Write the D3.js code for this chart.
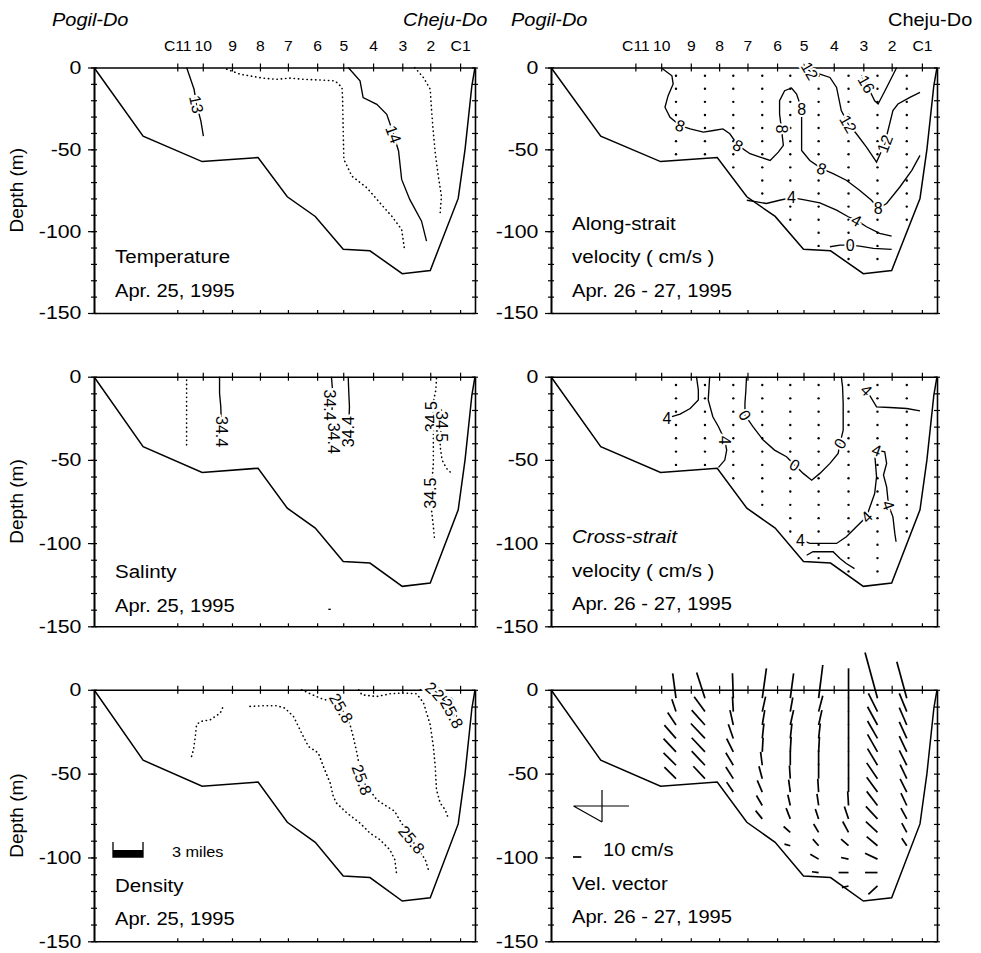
<!DOCTYPE html>
<html>
<head>
<meta charset="utf-8">
<script src="https://cdnjs.cloudflare.com/ajax/libs/d3/7.8.5/d3.min.js"></script>
<style>
  body { margin: 0; background: #fff; }
  svg { font-family: "Liberation Sans", Arial, Helvetica, sans-serif; }
</style>
</head>
<body>
<div id="chart"></div>
<script>
// stations along the section (km from Pogil-Do)
var stations = ["C11", "10", "9", "8", "7", "6", "5", "4", "3", "2", "C1"];
var stationKm = [13.4, 17.5, 22.2, 26.7, 31.2, 35.9, 40.1, 44.9, 49.6, 54.1, 58.9];

var depthTicks = [0, -50, -100, -150];
var depthMinor = [0, -10, -20, -30, -40, -50, -60, -70, -80, -90, -100, -110, -120, -130, -140, -150];

// bottom topography
var bottomKm = [0, 7.9, 17.4, 26.4, 31.1, 35.6, 40.1, 44.4, 49.6, 54.1, 58.6, 59.7, 60.8, 61.3];
var bottomDepth = [0, -42, -57.5, -55, -79, -91, -111, -112, -126, -124, -80, -50, -11, 0];

// temperature contours (deg C)
var temp13 = [[14.9, 0], [16.1, -13.3], [16.5, -22.5], [17.2, -32.7], [17.6, -41.9]];
var temp135 = [[21.35, -1], [23.5, -4.1], [27.2, -6.5], [29.4, -7.2], [31.5, -6.5], [33.7, -7.2], [37.2, -7.8],
  [38.8, -8.2], [39.9, -12.2], [40.0, -19.4], [40.1, -39.8], [40.2, -56.1], [41.5, -66.4], [43.9, -73.5],
  [46.0, -82.7], [47.9, -90.8], [49.5, -99], [50.0, -112.3]];
var temp14 = [[40.9, 0], [42.8, -8.2], [43.3, -18.4], [45.5, -22.5], [47.1, -28.6], [48.2, -40.8], [49.0, -51],
  [49.5, -68.4], [50.8, -80.6], [52.7, -93.9], [53.5, -106.1]];
var temp145 = [[51.6, 0], [53.0, -6.1], [54.1, -13.3], [54.3, -25.5], [54.6, -39.8], [54.9, -52], [55.4, -66.4],
  [55.9, -78.6], [55.7, -88.8]];
var tempLabels = [[16.5, -22.5, "13", 78], [48.2, -40.8, "14", 70]];

// salinity contours (psu)
var sal1 = [[14.9, -2], [14.9, -14], [14.9, -26], [14.9, -41]];
var sal2 = [[20.2, 0], [20.2, -10], [20.4, -18], [20.5, -30]];
var sal3 = [[38.2, 0], [38.4, -9], [38.3, -20]];
var sal4 = [[40.9, 0], [41.0, -10], [41.1, -18], [41.0, -28]];
var sal5 = [[55.1, -1], [55.0, -8], [54.6, -15], [54.6, -34], [54.6, -52], [54.4, -62], [54.3, -80], [54.6, -90], [54.8, -98]];
var sal6 = [[55.9, -20], [55.7, -42], [56.0, -50], [56.7, -55], [57.5, -58]];
var sal7 = [[37.7, -139.8], [38.1, -139.8]];
var salLabels = [[20.5, -33, "34.4", 90], [38.0, -17, "34.4", 90], [38.6, -37, "34.4", 90], [40.9, -33, "34.4", -90],
  [54.3, -24, "34.5", -90], [54.1, -70, "34.5", -90], [55.9, -30, "34.5", 90]];

// density contours (sigma-t)
var dens1 = [[15.7, -39.7], [16.0, -35.8], [16.3, -27.8], [16.5, -20.9], [17.1, -18.9], [18.7, -17.9], [20.3, -13.9], [20.8, -9.9]];
var dens2 = [[25.1, -9.9], [27.3, -9.5], [29.4, -9.5], [30.7, -10.9], [32.1, -15.9], [33.4, -25.8], [34.5, -33.8],
  [36.1, -37.7], [36.9, -45.7], [38.0, -55.6], [38.5, -63.6], [39.0, -67.5], [40.7, -73.5], [42.8, -79.5],
  [44.4, -85.5], [46.0, -89.4], [47.6, -95.4], [48.4, -101.3], [48.7, -110.3]];
var dens3 = [[33.4, 0], [34.8, -2.4], [36.4, -5.0], [38.2, -7.0], [39.8, -10.9], [41.2, -20.9], [41.7, -27.8],
  [42.3, -37.7], [43.1, -53.6], [45.5, -65.6], [47.1, -69.5], [48.4, -72.5], [49.0, -76.5], [51.1, -89.4],
  [53.3, -101.3], [53.8, -107.3]];
var dens4 = [[42.6, 0], [43.1, -3.0], [45.5, -4.0], [47.6, -2.4], [49.8, -1.9], [51.9, -2.4], [53.0, -7.6],
  [54.1, -20.9], [54.6, -33.8], [54.9, -45.7], [55.1, -59.6], [55.7, -67.5], [56.5, -71.5], [57.0, -76.5]];
var dens5 = [[52.5, 0], [54.6, -1.5], [56.0, -4], [57.5, -9], [58.6, -18], [58.8, -22]];
var densLabels = [[39.8, -10.9, "25.8", 60], [43.1, -53.6, "25.8", 70], [51.1, -89.4, "25.8", 50],
  [55.6, -3, "25.8", 40], [56.6, -8, "25.8", 50], [57.6, -14, "25.8", 62]];

// along-strait velocity contours (cm/s)
var along8 = [[17.6, -0.5], [19.2, -5.05], [19.4, -10.1], [18.6, -17.2], [18.1, -24.3], [18.9, -30.4], [20.5, -35.5],
  [22.1, -37.5], [24.2, -39.5], [25.8, -38.5], [27.3, -37.5], [28.4, -40.5], [29.7, -47.6], [31.6, -52.7],
  [33.2, -54.7], [34.8, -56.8], [36.1, -51.7], [36.9, -47.6], [36.6, -37.5], [36.3, -28.4], [36.3, -20.3],
  [37.1, -14.2], [38.2, -12.5], [39.0, -16.2], [39.8, -25.3], [39.8, -32.4], [39.8, -50.7], [41.1, -56.8],
  [42.97, -61.8], [44.8, -64.8], [46.9, -68.9], [49.0, -75.0], [50.9, -81.1], [51.95, -86.1], [53.3, -83.1],
  [55.4, -73.0], [57.3, -62.8], [58.6, -53.7]];
var along12 = [[40.3, 0], [41.1, -2], [42.7, -4.0], [44.3, -6.1], [45.35, -12.2], [46.1, -26.3], [47.2, -34.4],
  [48.5, -40.5], [50.1, -48.7], [51.7, -57.8], [53.0, -46.6], [54.3, -26.3], [55.1, -22.3], [57.0, -18.2], [58.6, -15.2]];
var along16 = [[54.9, 0], [53.3, -12.2], [51.95, -22.3], [51.4, -20.3], [50.1, -10.1], [49.3, -5]];
var along4 = [[31.1, -81.1], [32.7, -82.1], [34.2, -83.1], [36.3, -81.1], [38.2, -79.5], [40.05, -80.7], [42.7, -82.7],
  [45.35, -87.2], [47.2, -91.2], [48.5, -93.3], [50.1, -97.3], [52.2, -101.3], [54.1, -103.0]];
var along0 = [[44.3, -109.5], [45.9, -108.5], [47.5, -108.5], [49.0, -109.1], [51.2, -110.5], [54.1, -111.1]];
var alongLabels = [[20.5, -35.5, "8", 20], [29.7, -47.6, "8", 30], [36.6, -37.5, "8", 90], [39.8, -25.3, "8", 0],
  [42.97, -61.8, "8", 20], [51.95, -86.1, "8", 0], [41.1, -2, "12", 60], [47.2, -34.4, "12", 60],
  [53.0, -46.6, "12", -70], [50.1, -10.1, "16", 60], [38.2, -79.5, "4", 0], [48.5, -93.3, "4", 30], [47.5, -108.5, "0", 0]];

// cross-strait velocity contours (cm/s)
var cross4a = [[23.1, 0], [23.4, -8.0], [23.4, -14.0], [22.1, -19.1], [20.5, -22.5], [19.2, -24.0]];
var cross4b = [[25.2, 0], [24.97, -14.0], [25.7, -24.1], [26.6, -30.1], [27.6, -38.1], [27.9, -44.1], [27.6, -50.1], [26.6, -54.5]];
var cross0 = [[31.05, 0], [30.95, -8.0], [30.8, -16.0], [30.8, -23.1], [32.1, -30.1], [33.7, -38.1], [35.5, -44.1],
  [37.4, -48.1], [38.7, -53.1], [40.05, -58.1], [41.4, -62.2], [42.7, -58.1], [44.3, -52.1], [45.6, -46.1],
  [45.9, -40.1], [46.4, -32.1], [46.4, -16.0], [46.3, -6.0], [46.1, 0]];
var cross4c = [[50.1, -8], [51.7, -18.1], [53.8, -18.5], [56.5, -19.1], [58.6, -20.5]];
var cross4d = [[51.7, -44.1], [53.0, -45.1], [53.3, -52.1], [52.8, -59.1], [53.3, -66.2], [53.6, -77.2], [54.3, -84.2],
  [54.6, -94.2], [54.8, -99.2]];
var cross4e = [[51.4, -46.1], [51.7, -60.1], [51.4, -70.2], [50.1, -84.2], [48.5, -90.2], [46.9, -96.2], [45.35, -100.2],
  [42.7, -100.2], [41.1, -100.2], [39.8, -98.2]];
var cross4f = [[40.6, -107.3], [41.6, -105.2], [44.8, -105.2], [45.9, -109.3], [46.9, -112.3], [48.2, -115.3]];
var crossLabels = [[18.4, -25.1, "4", 0], [27.6, -38.1, "4", 90], [30.8, -23.1, "0", 60], [38.7, -53.1, "0", 30],
  [45.9, -40.1, "0", -60], [50.1, -8.0, "4", 45], [51.7, -44.1, "4", 20], [53.6, -77.2, "4", 70],
  [50.1, -84.2, "4", -45], [39.6, -98.2, "4", 0]];

// ADCP columns (mid-station) and bin depths
var columnKm = [19.85, 24.45, 28.95, 33.55, 38.0, 42.5, 47.25, 51.85, 56.5];
var binDepths = [-5, -13, -21, -29, -37, -45, -53, -61, -69, -77, -85, -93, -101, -109, -117];

// velocity vectors per column, [cross-strait u, along-strait v] in cm/s
var vel_10_9 = [[-4, 30], [-5, 15], [-10, 15], [-14, 16], [-15, 16], [-15, 15], [-14, 14]];
var vel_9_8 = [[-10, 31], [-13, 18], [-16, 18], [-17, 18], [-16, 17], [-16, 17], [-14, 15]];
var vel_8_7 = [[-1, 30], [-1, 18], [-4, 18], [-6, 17], [-8, 16], [-9, 15], [-9, 14], [-8, 12]];
var vel_7_6 = [[5, 36], [4, 18], [3, 18], [2, 18], [1, 17], [-2, 16], [-4, 15], [-6, 14], [-7, 12], [-8, 10]];
var vel_6_5 = [[4, 30], [3, 17], [4, 18], [2, 18], [1, 18], [0, 17], [-1, 16], [-2, 15], [-3, 13], [-5, 13], [-8, 7], [-7, 2]];
var vel_5_4 = [[5, 40], [5, 19], [4, 18], [2, 18], [1, 18], [0, 18], [0, 18], [-1, 16], [-2, 14], [-4, 12], [-6, 10],
  [-7, 8], [-10, 6], [-8, 1]];
var vel_4_3 = [[0, 36], [0, 17], [0, 17], [0, 17], [0, 17], [0, 17], [0, 17], [0, 17], [-1, 17], [-5, 15], [-7, 13],
  [-9, 8], [-9, 2], [-12, 0], [-8, -2]];
var vel_3_2 = [[-15, 55], [-11, 22], [-12, 22], [-12, 21], [-12, 21], [-12, 20], [-13, 19], [-13, 18], [-13, 17],
  [-14, 15], [-14, 13], [-13, 11], [-15, 7], [-15, 0], [-11, -10]];
var vel_2_C1 = [[-12, 44], [-9, 22], [-9, 21], [-9, 20], [-9, 19], [-9, 18], [-8, 17], [-8, 16], [-7, 15], [-7, 13],
  [-6, 11], [-6, 9]];
var velColumns = [vel_10_9, vel_9_8, vel_8_7, vel_7_6, vel_6_5, vel_5_4, vel_4_3, vel_3_2, vel_2_C1];

// ---------------------------------------------------------------
var svg = d3.select("#chart")
  .append("svg")
  .attr("width", 981)
  .attr("height", 953);

var colX = [[94, 475], [551, 937]];
var rowY = [[67.5, 313], [376.7, 626.3], [689.8, 941.3]];
var velScale = 0.83; // px per cm/s

function stretchText(g, x, y, str, size, sx) {
  return g.append("text")
    .attr("transform", "translate(" + x + "," + y + ") scale(" + sx + ",1)")
    .attr("font-size", size)
    .text(str);
}

function makePanel(col, row) {
  var x = d3.scaleLinear().domain([0, 61.3]).range(colX[col]);
  var y = d3.scaleLinear().domain([0, -150]).range(rowY[row]);
  var g = svg.append("g");
  var p = { g: g, x: x, y: y, col: col, row: row };

  // bottom topography
  var bottom = bottomKm.map(function (d, i) { return [d, bottomDepth[i]]; });
  g.append("path")
    .datum(bottom)
    .attr("fill", "none")
    .attr("stroke", "#000")
    .attr("stroke-width", 1.5)
    .attr("d", d3.line().x(function (d) { return x(d[0]); }).y(function (d) { return y(d[1]); }));

  drawAxes(p);
  return p;
}

function drawAxes(p) {
  var x = p.x, y = p.y, g = p.g;
  var x0 = x.range()[0], x1 = x.range()[1];
  var y0 = y.range()[0], y1 = y.range()[1];

  // top axis with stations
  var top = g.append("g")
    .attr("transform", "translate(0," + y0 + ")")
    .call(d3.axisTop(x).tickValues(stationKm).tickSize(4).tickSizeOuter(0).tickPadding(13)
      .tickFormat(function (d, i) { return p.row == 0 ? stations[i] : ""; }));
  top.selectAll(".tick line").attr("y1", 4);
  top.selectAll(".tick text").attr("font-size", 14.5).attr("font-family", null)
    .attr("transform", "scale(1.08,1)");

  // bottom axis
  g.append("g")
    .attr("transform", "translate(0," + y1 + ")")
    .call(d3.axisBottom(x).tickValues(stationKm).tickSize(-3).tickSizeOuter(0).tickFormat(""));

  // left axis with depth labels
  var left = g.append("g")
    .attr("transform", "translate(" + x0 + ",0)")
    .call(d3.axisLeft(y).tickValues(depthTicks).tickSize(6).tickSizeOuter(0).tickPadding(5)
      .tickFormat(function (d) { return String(d); }));
  left.selectAll(".tick text").attr("font-size", 18.5).attr("font-family", null)
    .attr("transform", "scale(1.15,1)");

  var leftMinor = g.append("g")
    .attr("transform", "translate(" + x0 + ",0)")
    .call(d3.axisLeft(y).tickValues(depthMinor).tickSize(3).tickSizeOuter(0).tickFormat(""));
  leftMinor.selectAll(".tick line").attr("x1", 3);

  var right = g.append("g")
    .attr("transform", "translate(" + x1 + ",0)")
    .call(d3.axisRight(y).tickValues(depthMinor).tickSize(3).tickSizeOuter(0).tickFormat(""));
  right.selectAll(".tick line").attr("x1", -3);

  g.selectAll(".domain").attr("stroke-width", 1.6);
  g.selectAll(".tick line").attr("stroke-width", 1.2);

  if (p.col == 0) {
    g.append("text")
      .attr("transform", "translate(23," + (y0 + y1) / 2 + ") rotate(-90)")
      .attr("text-anchor", "middle")
      .attr("font-size", 19)
      .text("Depth (m)");
  }
}

function drawContour(p, pts, dotted) {
  p.g.append("path")
    .datum(pts)
    .attr("fill", "none")
    .attr("stroke", "#000")
    .attr("stroke-width", dotted ? 1.6 : 1.35)
    .attr("stroke-linecap", dotted ? "round" : "butt")
    .attr("stroke-dasharray", dotted ? "0.3,4" : null)
    .attr("d", d3.line()
      .x(function (d) { return p.x(d[0]); })
      .y(function (d) { return p.y(d[1]); }));
}

function drawLabels(p, labels) {
  p.g.selectAll(null)
    .data(labels)
    .join("text")
    .attr("transform", function (d) {
      return "translate(" + p.x(d[0]) + "," + p.y(d[1]) + ") rotate(" + d[3] + ")";
    })
    .attr("text-anchor", "middle")
    .attr("dy", "0.36em")
    .attr("font-size", 16)
    .attr("stroke", "#fff")
    .attr("stroke-width", 4)
    .attr("paint-order", "stroke")
    .text(function (d) { return d[2]; });
}

function drawBinDots(p) {
  columnKm.forEach(function (km, i) {
    var n = velColumns[i].length;
    p.g.selectAll(null)
      .data(binDepths.slice(0, n))
      .join("circle")
      .attr("cx", p.x(km))
      .attr("cy", function (d) { return p.y(d); })
      .attr("r", 1.2)
      .attr("fill", "#000");
  });
}

// ---- Temperature
var pT = makePanel(0, 0);
drawContour(pT, temp13, false);
drawContour(pT, temp135, true);
drawContour(pT, temp14, false);
drawContour(pT, temp145, true);
drawLabels(pT, tempLabels);
stretchText(pT.g, 115, 263, "Temperature", 19, 1.08);
stretchText(pT.g, 115, 297, "Apr. 25, 1995", 19, 1.06);

// ---- Salinity
var pS = makePanel(0, 1);
drawContour(pS, sal1, true);
drawContour(pS, sal2, false);
drawContour(pS, sal3, false);
drawContour(pS, sal4, false);
drawContour(pS, sal5, true);
drawContour(pS, sal6, true);
drawContour(pS, sal7, false);
drawLabels(pS, salLabels);
stretchText(pS.g, 115, 578, "Salinty", 19, 1.08);
stretchText(pS.g, 115, 612, "Apr. 25, 1995", 19, 1.06);

// ---- Density
var pD = makePanel(0, 2);
[dens1, dens2, dens3, dens4, dens5].forEach(function (c) { drawContour(pD, c, true); });
drawLabels(pD, densLabels);
// 3 miles scale bar
var milesPx = pD.x(3 * 1.609) - pD.x(0);
var sb = pD.g.append("g").attr("transform", "translate(113,842)");
sb.append("path")
  .attr("d", "M0,0V15H" + milesPx + "V0")
  .attr("fill", "none").attr("stroke", "#000").attr("stroke-width", 1.3);
sb.append("rect").attr("x", 0).attr("y", 8).attr("width", milesPx).attr("height", 7).attr("fill", "#000");
stretchText(pD.g, 172, 857, "3 miles", 15.5, 1.05);
stretchText(pD.g, 115, 892, "Density", 19, 1.08);
stretchText(pD.g, 115, 925, "Apr. 25, 1995", 19, 1.06);

// ---- Along-strait velocity
var pA = makePanel(1, 0);
drawBinDots(pA);
drawContour(pA, along8, false);
drawContour(pA, along12, false);
drawContour(pA, along16, false);
drawContour(pA, along4, false);
drawContour(pA, along0, false);
drawLabels(pA, alongLabels);
stretchText(pA.g, 572, 230, "Along-strait", 19, 1.08);
stretchText(pA.g, 572, 263, "velocity ( cm/s )", 19, 1.08);
stretchText(pA.g, 572, 297, "Apr. 26 - 27, 1995", 19, 1.06);

// ---- Cross-strait velocity
var pC = makePanel(1, 1);
drawBinDots(pC);
[cross4a, cross4b, cross0, cross4c, cross4d, cross4e, cross4f].forEach(function (c) { drawContour(pC, c, false); });
drawLabels(pC, crossLabels);
stretchText(pC.g, 572, 543, "Cross-strait", 19, 1.08).attr("font-style", "italic");
stretchText(pC.g, 572, 577, "velocity ( cm/s )", 19, 1.08);
stretchText(pC.g, 572, 610, "Apr. 26 - 27, 1995", 19, 1.06);

// ---- Velocity vectors
var pV = makePanel(1, 2);
columnKm.forEach(function (km, i) {
  pV.g.selectAll(null)
    .data(velColumns[i])
    .join("line")
    .attr("x1", pV.x(km))
    .attr("y1", function (d, k) { return pV.y(binDepths[k]); })
    .attr("x2", function (d) { return pV.x(km) + d[0] * velScale; })
    .attr("y2", function (d, k) { return pV.y(binDepths[k]) - d[1] * velScale; })
    .attr("stroke", "#000")
    .attr("stroke-width", 1.7);
});
// orientation legend
var leg = pV.g.append("g").attr("transform", "translate(602,806)");
leg.append("path")
  .attr("d", "M0,-16V16M-28.5,0H27M-28.5,0L0,16")
  .attr("fill", "none").attr("stroke", "#000").attr("stroke-width", 1.2);
pV.g.append("line")
  .attr("x1", 573).attr("x2", 573 + 10 * velScale)
  .attr("y1", 857).attr("y2", 857)
  .attr("stroke", "#000").attr("stroke-width", 1.7);
stretchText(pV.g, 603, 856, "10 cm/s", 19, 1.06);
stretchText(pV.g, 572, 890, "Vel. vector", 19, 1.08);
stretchText(pV.g, 572, 923, "Apr. 26 - 27, 1995", 19, 1.06);

// ---- section end labels
stretchText(svg, 52, 26, "Pogil-Do", 19, 1.05).attr("font-style", "italic");
stretchText(svg, 403, 26, "Cheju-Do", 19, 1.05).attr("font-style", "italic");
stretchText(svg, 511, 26, "Pogil-Do", 19, 1.05).attr("font-style", "italic");
stretchText(svg, 888, 26, "Cheju-Do", 19, 1.05);
</script>
</body>
</html>
